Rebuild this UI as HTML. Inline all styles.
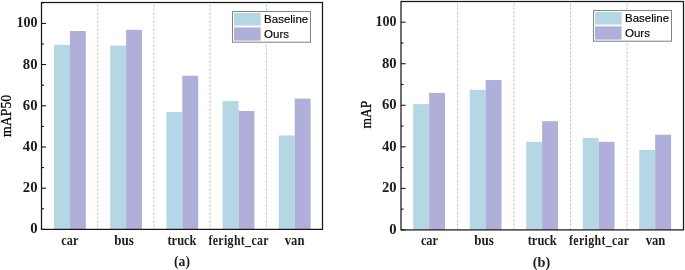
<!DOCTYPE html>
<html><head><meta charset="utf-8"><style>
html,body{margin:0;padding:0;background:#fff;width:685px;height:270px;overflow:hidden}
svg{display:block;will-change:transform}
</style></head><body>
<svg width="685" height="270" viewBox="0 0 685 270">
<rect width="685" height="270" fill="#fff"/>
<line x1="97.70" y1="4.40" x2="97.70" y2="229.40" stroke="#c4c4c4" stroke-width="1" stroke-dasharray="2.5 1.5"/>
<line x1="153.90" y1="4.40" x2="153.90" y2="229.40" stroke="#c4c4c4" stroke-width="1" stroke-dasharray="2.5 1.5"/>
<line x1="210.10" y1="4.40" x2="210.10" y2="229.40" stroke="#c4c4c4" stroke-width="1" stroke-dasharray="2.5 1.5"/>
<line x1="266.30" y1="4.40" x2="266.30" y2="229.40" stroke="#c4c4c4" stroke-width="1" stroke-dasharray="2.5 1.5"/>
<rect x="54.00" y="44.82" width="15.90" height="184.58" fill="#b4d6e5"/>
<rect x="69.90" y="31.02" width="15.90" height="198.38" fill="#b0afda"/>
<rect x="110.20" y="45.65" width="15.90" height="183.75" fill="#b4d6e5"/>
<rect x="126.10" y="29.79" width="15.90" height="199.61" fill="#b0afda"/>
<rect x="166.40" y="111.98" width="15.90" height="117.42" fill="#b4d6e5"/>
<rect x="182.30" y="75.72" width="15.90" height="153.68" fill="#b0afda"/>
<rect x="222.60" y="101.06" width="15.90" height="128.34" fill="#b4d6e5"/>
<rect x="238.50" y="110.95" width="15.90" height="118.45" fill="#b0afda"/>
<rect x="278.80" y="135.46" width="15.90" height="93.94" fill="#b4d6e5"/>
<rect x="294.70" y="98.59" width="15.90" height="130.81" fill="#b0afda"/>
<line x1="41.50" y1="229.40" x2="46.10" y2="229.40" stroke="#000" stroke-width="1"/>
<text transform="translate(37.50,233.40) scale(1.05,1)" text-anchor="end" font-family='"Liberation Serif", serif' font-weight="bold" fill="#1c1c1c" font-size="14">0</text>
<line x1="41.50" y1="208.80" x2="44.00" y2="208.80" stroke="#000" stroke-width="1"/>
<line x1="41.50" y1="188.20" x2="46.10" y2="188.20" stroke="#000" stroke-width="1"/>
<text transform="translate(37.50,192.20) scale(1.05,1)" text-anchor="end" font-family='"Liberation Serif", serif' font-weight="bold" fill="#1c1c1c" font-size="14">20</text>
<line x1="41.50" y1="167.60" x2="44.00" y2="167.60" stroke="#000" stroke-width="1"/>
<line x1="41.50" y1="147.00" x2="46.10" y2="147.00" stroke="#000" stroke-width="1"/>
<text transform="translate(37.50,151.00) scale(1.05,1)" text-anchor="end" font-family='"Liberation Serif", serif' font-weight="bold" fill="#1c1c1c" font-size="14">40</text>
<line x1="41.50" y1="126.40" x2="44.00" y2="126.40" stroke="#000" stroke-width="1"/>
<line x1="41.50" y1="105.80" x2="46.10" y2="105.80" stroke="#000" stroke-width="1"/>
<text transform="translate(37.50,109.80) scale(1.05,1)" text-anchor="end" font-family='"Liberation Serif", serif' font-weight="bold" fill="#1c1c1c" font-size="14">60</text>
<line x1="41.50" y1="85.20" x2="44.00" y2="85.20" stroke="#000" stroke-width="1"/>
<line x1="41.50" y1="64.60" x2="46.10" y2="64.60" stroke="#000" stroke-width="1"/>
<text transform="translate(37.50,68.60) scale(1.05,1)" text-anchor="end" font-family='"Liberation Serif", serif' font-weight="bold" fill="#1c1c1c" font-size="14">80</text>
<line x1="41.50" y1="44.00" x2="44.00" y2="44.00" stroke="#000" stroke-width="1"/>
<line x1="41.50" y1="23.40" x2="46.10" y2="23.40" stroke="#000" stroke-width="1"/>
<text transform="translate(37.50,27.40) scale(1.0,1)" text-anchor="end" font-family='"Liberation Serif", serif' font-weight="bold" fill="#1c1c1c" font-size="14">100</text>
<line x1="41.50" y1="2.80" x2="44.00" y2="2.80" stroke="#000" stroke-width="1"/>
<rect x="41.50" y="2.50" width="281.00" height="226.90" fill="none" stroke="#181818" stroke-width="1.25"/>
<text transform="translate(69.80,245.1) scale(0.8800,1)" text-anchor="middle" letter-spacing="0" font-family='"Liberation Serif", serif' font-weight="bold" fill="#1c1c1c" font-size="14">car</text>
<text transform="translate(124.10,245.1) scale(0.9300,1)" text-anchor="middle" letter-spacing="0" font-family='"Liberation Serif", serif' font-weight="bold" fill="#1c1c1c" font-size="14">bus</text>
<text transform="translate(182.00,245.1) scale(0.8900,1)" text-anchor="middle" letter-spacing="0" font-family='"Liberation Serif", serif' font-weight="bold" fill="#1c1c1c" font-size="14">truck</text>
<text transform="translate(238.67,245.1) scale(0.8492,1)" text-anchor="middle" letter-spacing="0.4" font-family='"Liberation Serif", serif' font-weight="bold" fill="#1c1c1c" font-size="14">feright_car</text>
<text transform="translate(294.60,245.1) scale(0.9000,1)" text-anchor="middle" letter-spacing="0" font-family='"Liberation Serif", serif' font-weight="bold" fill="#1c1c1c" font-size="14">van</text>
<text transform="translate(182.00,266) scale(0.98,1)" text-anchor="middle" font-family='"Liberation Serif", serif' font-weight="bold" fill="#1c1c1c" font-size="14">(a)</text>
<text transform="translate(11.00,115.90) rotate(-90) scale(0.92,1)" text-anchor="middle" font-family='"Liberation Serif", serif' font-size="15" stroke="#000" stroke-width="0.25">mAP50</text>
<rect x="232.50" y="11.50" width="78.00" height="30.70" fill="#fff" stroke="#858585" stroke-width="1.05"/>
<rect x="234.00" y="13.00" width="26.60" height="12.60" fill="#b4d6e5"/>
<rect x="234.00" y="27.40" width="26.60" height="13.20" fill="#b0afda"/>
<text x="264.10" y="23.10" font-family='"Liberation Sans", sans-serif' font-size="11.5" fill="#000" stroke="#000" stroke-width="0.15">Baseline</text>
<text x="264.10" y="37.60" font-family='"Liberation Sans", sans-serif' font-size="11.5" fill="#000" stroke="#000" stroke-width="0.15">Ours</text>
<line x1="457.50" y1="3.40" x2="457.50" y2="229.90" stroke="#c4c4c4" stroke-width="1" stroke-dasharray="2.5 1.5"/>
<line x1="514.00" y1="3.40" x2="514.00" y2="229.90" stroke="#c4c4c4" stroke-width="1" stroke-dasharray="2.5 1.5"/>
<line x1="570.50" y1="3.40" x2="570.50" y2="229.90" stroke="#c4c4c4" stroke-width="1" stroke-dasharray="2.5 1.5"/>
<line x1="627.00" y1="3.40" x2="627.00" y2="229.90" stroke="#c4c4c4" stroke-width="1" stroke-dasharray="2.5 1.5"/>
<rect x="413.25" y="104.14" width="15.90" height="125.76" fill="#b4d6e5"/>
<rect x="429.15" y="92.92" width="15.90" height="136.98" fill="#b0afda"/>
<rect x="469.75" y="89.81" width="15.90" height="140.09" fill="#b4d6e5"/>
<rect x="485.65" y="80.04" width="15.90" height="149.86" fill="#b0afda"/>
<rect x="526.25" y="141.84" width="15.90" height="88.06" fill="#b4d6e5"/>
<rect x="542.15" y="121.17" width="15.90" height="108.73" fill="#b0afda"/>
<rect x="582.75" y="137.89" width="15.90" height="92.01" fill="#b4d6e5"/>
<rect x="598.65" y="141.84" width="15.90" height="88.06" fill="#b0afda"/>
<rect x="639.25" y="149.94" width="15.90" height="79.96" fill="#b4d6e5"/>
<rect x="655.15" y="134.67" width="15.90" height="95.23" fill="#b0afda"/>
<line x1="401.00" y1="229.90" x2="405.60" y2="229.90" stroke="#000" stroke-width="1"/>
<text transform="translate(396.60,233.90) scale(1.05,1)" text-anchor="end" font-family='"Liberation Serif", serif' font-weight="bold" fill="#1c1c1c" font-size="14">0</text>
<line x1="401.00" y1="209.13" x2="403.50" y2="209.13" stroke="#000" stroke-width="1"/>
<line x1="401.00" y1="188.36" x2="405.60" y2="188.36" stroke="#000" stroke-width="1"/>
<text transform="translate(396.60,192.36) scale(1.05,1)" text-anchor="end" font-family='"Liberation Serif", serif' font-weight="bold" fill="#1c1c1c" font-size="14">20</text>
<line x1="401.00" y1="167.59" x2="403.50" y2="167.59" stroke="#000" stroke-width="1"/>
<line x1="401.00" y1="146.82" x2="405.60" y2="146.82" stroke="#000" stroke-width="1"/>
<text transform="translate(396.60,150.82) scale(1.05,1)" text-anchor="end" font-family='"Liberation Serif", serif' font-weight="bold" fill="#1c1c1c" font-size="14">40</text>
<line x1="401.00" y1="126.05" x2="403.50" y2="126.05" stroke="#000" stroke-width="1"/>
<line x1="401.00" y1="105.28" x2="405.60" y2="105.28" stroke="#000" stroke-width="1"/>
<text transform="translate(396.60,109.28) scale(1.05,1)" text-anchor="end" font-family='"Liberation Serif", serif' font-weight="bold" fill="#1c1c1c" font-size="14">60</text>
<line x1="401.00" y1="84.51" x2="403.50" y2="84.51" stroke="#000" stroke-width="1"/>
<line x1="401.00" y1="63.74" x2="405.60" y2="63.74" stroke="#000" stroke-width="1"/>
<text transform="translate(396.60,67.74) scale(1.05,1)" text-anchor="end" font-family='"Liberation Serif", serif' font-weight="bold" fill="#1c1c1c" font-size="14">80</text>
<line x1="401.00" y1="42.97" x2="403.50" y2="42.97" stroke="#000" stroke-width="1"/>
<line x1="401.00" y1="22.20" x2="405.60" y2="22.20" stroke="#000" stroke-width="1"/>
<text transform="translate(396.60,26.20) scale(1.0,1)" text-anchor="end" font-family='"Liberation Serif", serif' font-weight="bold" fill="#1c1c1c" font-size="14">100</text>
<line x1="401.00" y1="1.43" x2="403.50" y2="1.43" stroke="#000" stroke-width="1"/>
<rect x="401.00" y="1.50" width="282.50" height="228.40" fill="none" stroke="#181818" stroke-width="1.25"/>
<text transform="translate(429.45,245.1) scale(0.8800,1)" text-anchor="middle" letter-spacing="0" font-family='"Liberation Serif", serif' font-weight="bold" fill="#1c1c1c" font-size="14">car</text>
<text transform="translate(484.05,245.1) scale(0.9300,1)" text-anchor="middle" letter-spacing="0" font-family='"Liberation Serif", serif' font-weight="bold" fill="#1c1c1c" font-size="14">bus</text>
<text transform="translate(542.25,245.1) scale(0.8900,1)" text-anchor="middle" letter-spacing="0" font-family='"Liberation Serif", serif' font-weight="bold" fill="#1c1c1c" font-size="14">truck</text>
<text transform="translate(599.22,245.1) scale(0.8492,1)" text-anchor="middle" letter-spacing="0.4" font-family='"Liberation Serif", serif' font-weight="bold" fill="#1c1c1c" font-size="14">feright_car</text>
<text transform="translate(655.45,245.1) scale(0.9000,1)" text-anchor="middle" letter-spacing="0" font-family='"Liberation Serif", serif' font-weight="bold" fill="#1c1c1c" font-size="14">van</text>
<text transform="translate(541.55,266.5) scale(1.02,1)" text-anchor="middle" font-family='"Liberation Serif", serif' font-weight="bold" fill="#1c1c1c" font-size="14">(b)</text>
<text transform="translate(370.80,114.60) rotate(-90) scale(0.9,1)" text-anchor="middle" font-family='"Liberation Serif", serif' font-size="15" stroke="#000" stroke-width="0.25">mAP</text>
<rect x="593.50" y="10.50" width="78.00" height="30.70" fill="#fff" stroke="#858585" stroke-width="1.05"/>
<rect x="595.00" y="12.00" width="26.60" height="12.60" fill="#b4d6e5"/>
<rect x="595.00" y="26.40" width="26.60" height="13.20" fill="#b0afda"/>
<text x="625.00" y="22.10" font-family='"Liberation Sans", sans-serif' font-size="11.5" fill="#000" stroke="#000" stroke-width="0.15">Baseline</text>
<text x="625.00" y="36.60" font-family='"Liberation Sans", sans-serif' font-size="11.5" fill="#000" stroke="#000" stroke-width="0.15">Ours</text>
</svg>
</body></html>
